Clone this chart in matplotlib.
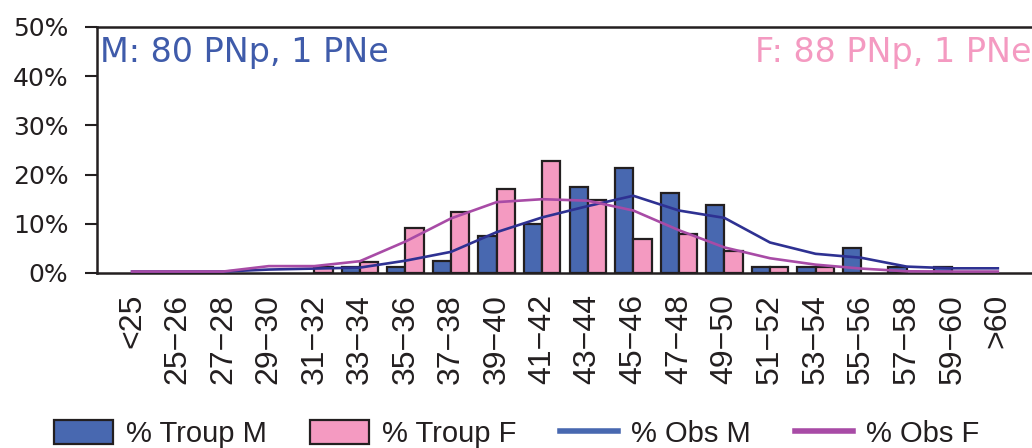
import matplotlib
matplotlib.use("Agg")
import matplotlib.pyplot as plt
import numpy as np
from matplotlib.patches import Patch
from matplotlib.lines import Line2D

# age classes (years)
categories = ['<25', '25\u221226', '27\u221228', '29\u221230', '31\u221232', '33\u221234',
              '35\u221236', '37\u221238', '39\u221240', '41\u221242', '43\u221244', '45\u221246',
              '47\u221248', '49\u221250', '51\u221252', '53\u221254', '55\u221256', '57\u221258',
              '59\u221260', '>60']

# % of troupe (bars)
troup_m = [0, 0, 0, 0, 0, 1.25, 1.25, 2.5, 7.5, 10, 17.5, 21.25, 16.25, 13.75,
           1.25, 1.25, 5, 1.25, 1.25, 0]
troup_f = [0, 0, 0, 0, 1.14, 2.27, 9.09, 12.5, 17.05, 22.73, 14.77, 6.82, 7.95, 4.55,
           1.14, 1.14, 0, 0, 0, 0]

# % observed (lines)
obs_m = [0.3, 0.3, 0.3, 0.7, 0.9, 1.1, 2.5, 4.3, 8.3, 11.3, 13.6, 15.7, 12.7, 11.2,
         6.2, 3.9, 3.1, 1.3, 0.95, 0.95]
obs_f = [0.3, 0.3, 0.3, 1.4, 1.4, 2.4, 6.4, 11.1, 14.4, 15.0, 14.7, 12.7, 8.7, 5.2,
         3.0, 1.7, 0.9, 0.35, 0.3, 0.3]

BLUE = '#4868B0'
PINK = '#F49AC1'
NAVY = '#2E3192'
MAGENTA = '#A84BA6'
DARK = '#231F20'

fig = plt.figure(figsize=(10.32, 4.48), dpi=100)
ax = fig.add_axes([97 / 1032, 1 - 273 / 448, 1 - 97 / 1032, (273 - 27) / 448])

x = np.arange(len(categories))
w = 0.4
# empty classes get no bar at all (no outline on the axis)
m = np.array(troup_m)
f = np.array(troup_f)
ax.bar(x[m > 0] - w / 2, m[m > 0], width=w, color=BLUE, edgecolor=DARK, linewidth=1.6, zorder=2)
ax.bar(x[f > 0] + w / 2, f[f > 0], width=w, color=PINK, edgecolor=DARK, linewidth=1.6, zorder=2)
ax.plot(x, obs_m, color=NAVY, linewidth=1.9, zorder=3)
ax.plot(x, obs_f, color=MAGENTA, linewidth=1.9, zorder=3)

ax.set_xlim(-0.77, 19.75)
ax.set_ylim(0, 50)
ax.set_yticks(range(0, 51, 10))
ax.set_yticklabels([f'{v}%' for v in range(0, 51, 10)])
ax.set_xticks(x)
ax.set_xticklabels(categories, rotation=90, ha='center', va='top',
                   fontfamily='Liberation Sans', fontsize=23)

ax.tick_params(axis='y', length=8.6, width=1.5, color=DARK, labelsize=18,
               labelcolor=DARK, pad=12)
ax.tick_params(axis='x', length=0, pad=15, labelcolor=DARK)
for s in ['left', 'bottom', 'top']:
    ax.spines[s].set_color(DARK)
    ax.spines[s].set_linewidth(1.8)
ax.spines['right'].set_visible(False)

ax.text(0.003, 0.965, 'M: 80 PNp, 1 PNe', transform=ax.transAxes,
        ha='left', va='top', fontsize=24, color='#3F5BAA')
ax.text(0.999, 0.965, 'F: 88 PNp, 1 PNe', transform=ax.transAxes,
        ha='right', va='top', fontsize=24, color=PINK)

handles = [
    Patch(facecolor=BLUE, edgecolor=DARK, linewidth=1.6, label='% Troup M'),
    Patch(facecolor=PINK, edgecolor=DARK, linewidth=1.6, label='% Troup F'),
    Line2D([], [], color=BLUE, linewidth=4, label='% Obs M'),
    Line2D([], [], color=MAGENTA, linewidth=4, label='% Obs F'),
]
fig.legend(handles=handles, loc='center', bbox_to_anchor=(517 / 1032, 1 - 434 / 448),
           ncol=4, frameon=False, prop={'family': 'Liberation Sans', 'size': 21},
           handlelength=2.0, handleheight=0.9, handletextpad=0.45,
           columnspacing=1.5, labelcolor=DARK, borderaxespad=0, borderpad=0)

fig.savefig('out.png', dpi=100)
